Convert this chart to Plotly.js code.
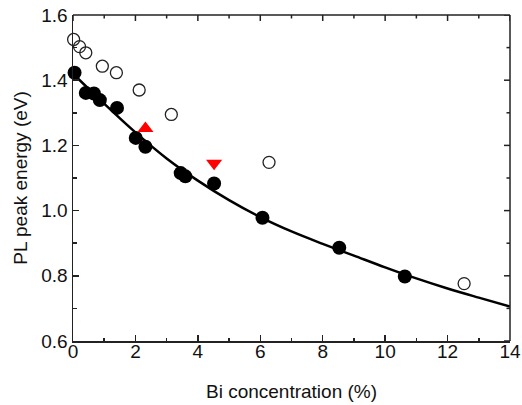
<!DOCTYPE html>
<html>
<head>
<meta charset="utf-8">
<script src="https://cdn.plot.ly/plotly-3.0.1.min.js"></script>
<style>html,body{margin:0;padding:0;background:#fff;}#plot{width:522px;height:405px;}</style>
</head>
<body>
<div id="plot"></div>
<script>
// Filled circles (measured)
const filledX = [0.05, 0.41, 0.67, 0.86, 1.41, 2.01, 2.32, 3.45, 3.6, 4.52, 6.07, 8.53, 10.63];
const filledY = [1.423, 1.361, 1.359, 1.339, 1.315, 1.223, 1.196, 1.115, 1.105, 1.083, 0.978, 0.886, 0.798];
// Open circles
const openX = [0.02, 0.21, 0.41, 0.94, 1.39, 2.12, 3.15, 6.28, 12.53];
const openY = [1.525, 1.503, 1.484, 1.443, 1.423, 1.370, 1.295, 1.148, 0.776];
// Red triangles
const upX = [2.32];
const upY = [1.252];
const downX = [4.52];
const downY = [1.145];
// Fit curve
const fitX = [0, 1, 2, 3, 4, 5, 6, 7, 8, 9, 10, 11, 12, 13, 14];
const fitY = [1.42, 1.328, 1.240, 1.160, 1.092, 1.032, 0.980, 0.936, 0.898, 0.862, 0.826, 0.792, 0.761, 0.733, 0.706];
// Tick values for the mirrored top/right frame
const xMajorTicks = [0, 2, 4, 6, 8, 10, 12, 14];
const xMinorTicks = [1, 3, 5, 7, 9, 11, 13];
const yMajorTicks = [0.6, 0.8, 1.0, 1.2, 1.4, 1.6];
const yMinorTicks = [0.7, 0.9, 1.1, 1.3, 1.5];

const xRange = [0, 14];
const yRange = [0.6, 1.6];

const traces = [
  {x: fitX, y: fitY, mode: 'lines', line: {color: '#000', width: 2.5, shape: 'spline'}, hoverinfo: 'skip'},
  {x: openX, y: openY, mode: 'markers', cliponaxis: false,
   marker: {symbol: 'circle-open', size: 12, color: '#222', line: {width: 1.3, color: '#222'}}},
  {x: filledX, y: filledY, mode: 'markers', cliponaxis: false,
   marker: {symbol: 'circle', size: 14, color: '#000'}},
  {x: upX, y: upY, mode: 'markers', marker: {symbol: 'triangle-up', size: 14, color: '#f00'}},
  {x: downX, y: downY, mode: 'markers', marker: {symbol: 'triangle-down', size: 14, color: '#f00'}}
];

const frameLine = {color: '#222', width: 1.5};
const shapes = [
  {type: 'line', xref: 'paper', yref: 'paper', x0: 0, x1: 1, y0: 1, y1: 1, line: frameLine},
  {type: 'line', xref: 'paper', yref: 'paper', x0: 1, x1: 1, y0: 0, y1: 1, line: frameLine}
];
function topTick(v, len) {
  return {type: 'line', xref: 'x', yref: 'paper', ysizemode: 'pixel', yanchor: 1,
          x0: v, x1: v, y0: 0, y1: -len, line: frameLine};
}
function rightTick(v, len) {
  return {type: 'line', xref: 'paper', yref: 'y', xsizemode: 'pixel', xanchor: 1,
          x0: 0, x1: -len, y0: v, y1: v, line: frameLine};
}
xMajorTicks.forEach(v => shapes.push(topTick(v, 6)));
xMinorTicks.forEach(v => shapes.push(topTick(v, 3.5)));
yMajorTicks.forEach(v => shapes.push(rightTick(v, 6)));
yMinorTicks.forEach(v => shapes.push(rightTick(v, 3.5)));

const fnt = {family: 'Liberation Sans, Arial, sans-serif', size: 19, color: '#111'};
const axisCommon = {
  showgrid: false, zeroline: false, showline: true, linecolor: '#222', linewidth: 1.5,
  ticks: 'inside', ticklen: 6, tickwidth: 1.5, tickcolor: '#222',
  tickfont: fnt
};
const minorCommon = {ticks: 'inside', ticklen: 3.5, tickwidth: 1.5, tickcolor: '#222'};

const layout = {
  width: 522, height: 405,
  margin: {l: 73, r: 12, t: 15, b: 64},
  paper_bgcolor: '#fff', plot_bgcolor: '#fff',
  showlegend: false,
  shapes: shapes,
  xaxis: Object.assign({}, axisCommon, {
    range: xRange, tickvals: xMajorTicks, ticklabelstandoff: -7,
    minor: Object.assign({tickvals: xMinorTicks}, minorCommon),
    title: {text: 'Bi concentration (%)', font: fnt, standoff: 23}
  }),
  yaxis: Object.assign({}, axisCommon, {
    range: yRange, tickvals: yMajorTicks, tickformat: '.1f',
    minor: Object.assign({tickvals: yMinorTicks}, minorCommon),
    title: {text: 'PL peak energy (eV)', font: fnt, standoff: 8}
  })
};

Plotly.newPlot('plot', traces, layout, {displayModeBar: false, staticPlot: true});
</script>
</body>
</html>
